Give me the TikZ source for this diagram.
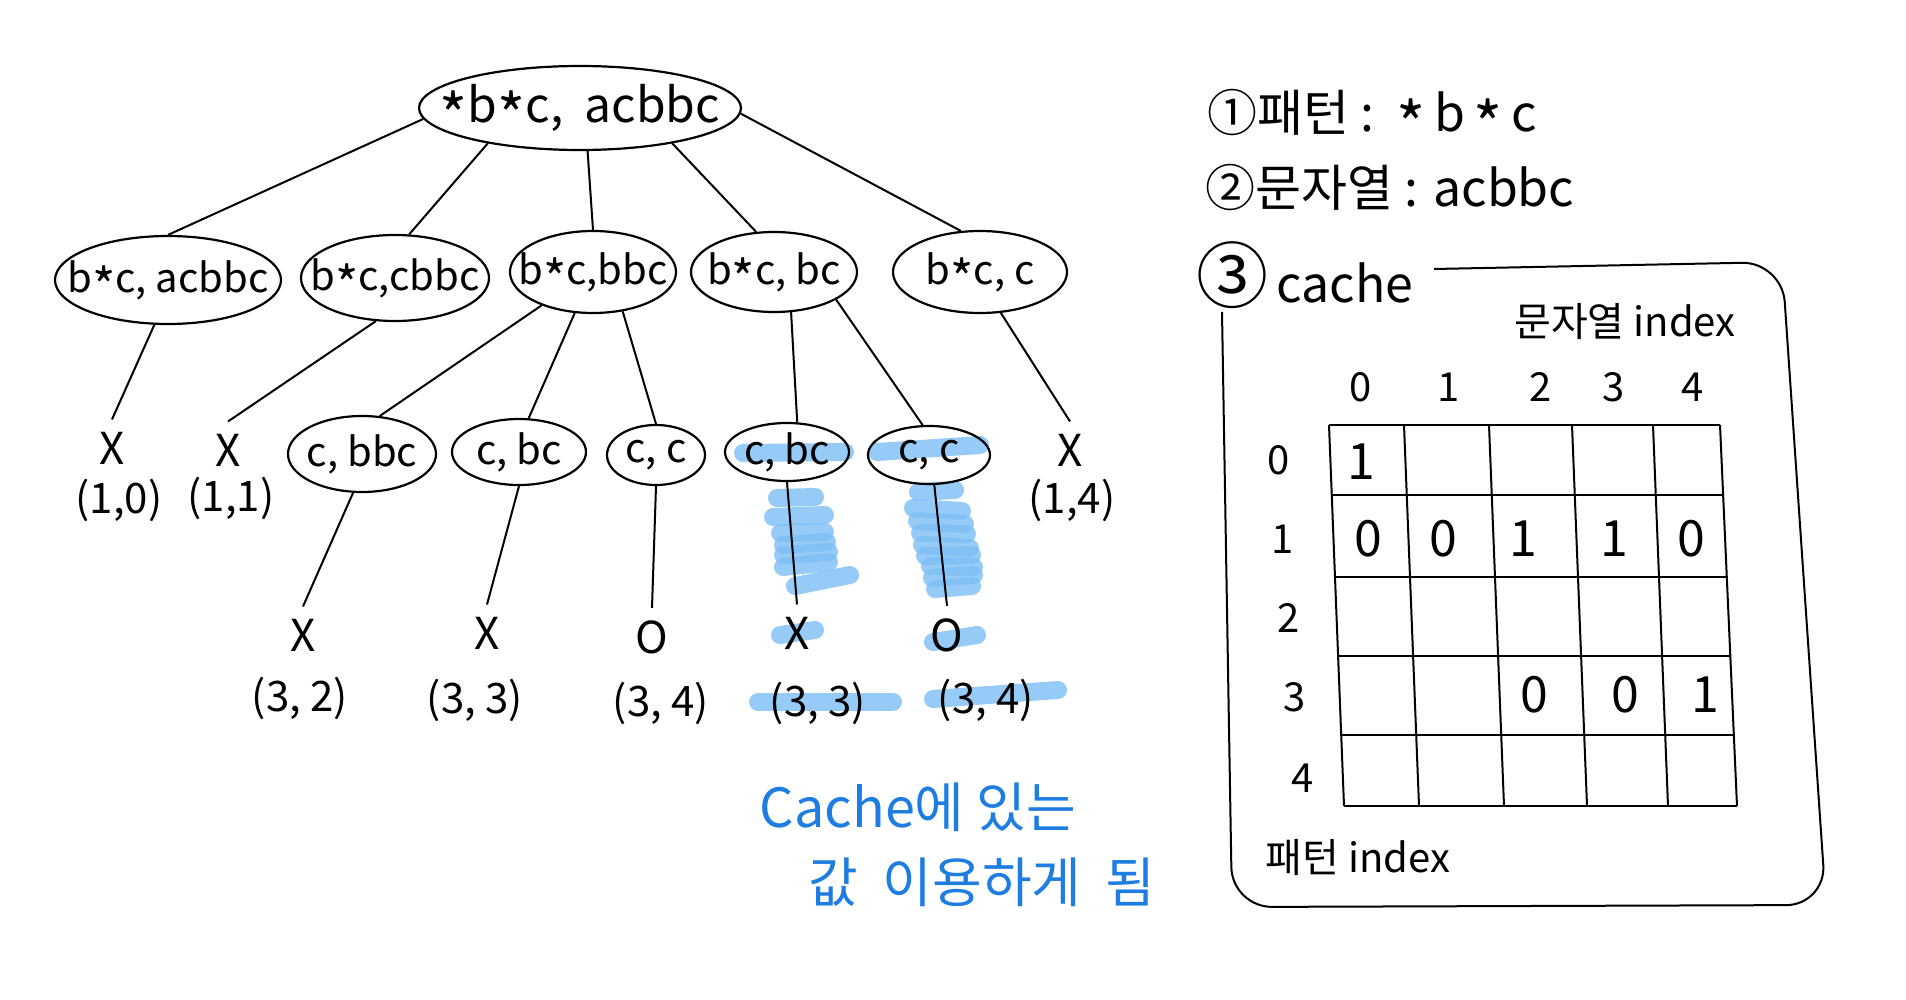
\documentclass[tikz,border=0pt]{standalone}
\usepackage{fontspec}
\usepackage{graphicx}
\setmainfont{Noto Sans CJK KR}
\usetikzlibrary{shapes.geometric}
\definecolor{hl}{RGB}{125,190,245}
\definecolor{bluetxt}{RGB}{30,125,225}
\newcommand{\zw}[1]{\makebox[0pt]{#1}}
\newcommand{\st}{\smash{\raisebox{-0.6ex}{\scalebox{1.25}{*}}}}
\tikzset{
  tn/.style={ellipse, draw, line width=1.1pt, inner sep=0pt, font=\fontsize{20}{24}\selectfont},
  leaf/.style={inner sep=6pt, font=\fontsize{22}{26}\selectfont},
  lbl/.style={inner sep=1pt, font=\fontsize{21}{25}\selectfont},
  edge/.style={line width=1pt},
  hls/.style={draw=hl, line width=9pt, line cap=round, opacity=0.8},
  side/.style={anchor=west, inner sep=0pt, font=\fontsize{25}{30}\selectfont},
  gridl/.style={line width=1pt},
  cellv/.style={inner sep=0pt, font=\fontsize{25}{30}\selectfont},
  axl/.style={inner sep=0pt, font=\fontsize{20}{24}\selectfont},
  note/.style={inner sep=0pt, text=bluetxt, font=\fontsize{27}{32}\selectfont},
}
\begin{document}
\begin{tikzpicture}[x=0.5pt,y=-0.5pt]
\useasboundingbox (0,0) rectangle (1906,1000);

% highlights (under everything)
\draw[hls] (743,453) -- (845,452);
\draw[hls] (877,452) -- (980,445);
\draw[hls] (777,498) -- (815,497);
\draw[hls] (773,517) -- (825,515);
\draw[hls] (780,533) -- (825,532);
\draw[hls] (783,545) -- (827,542);
\draw[hls] (783,555) -- (829,552);
\draw[hls] (783,567) -- (829,562);
\draw[hls] (795,586) -- (850,575);
\draw[hls] (918,492) -- (955,490);
\draw[hls] (913,508) -- (962,511);
\draw[hls] (917,521) -- (965,524);
\draw[hls] (920,533) -- (967,534);
\draw[hls] (922,545) -- (970,548);
\draw[hls] (925,556) -- (972,555);
\draw[hls] (930,566) -- (974,567);
\draw[hls] (932,578) -- (974,575);
\draw[hls] (935,589) -- (972,586);
\draw[hls] (780,635) -- (815,630);
\draw[hls] (933,642) -- (977,635);
\draw[hls] (758,702) -- (893,702);
\draw[hls] (933,699) -- (1058,690);

% tree nodes
\node[tn, minimum width=161pt, minimum height=42pt, font=\fontsize{24}{28}\selectfont] (root) at (580,108) {\zw{\st b\st c,\ \ acbbc}};
\node[tn, minimum width=113pt, minimum height=44pt] (a1) at (168,280) {\zw{b\st c, acbbc}};
\node[tn, minimum width=94pt, minimum height=43pt] (a2) at (395,278) {\zw{b\st c,cbbc}};
\node[tn, minimum width=83pt, minimum height=41pt] (a3) at (593,272) {\zw{b\st c,bbc}};
\node[tn, minimum width=83pt, minimum height=40pt] (a4) at (774,272) {\zw{b\st c, bc}};
\node[tn, minimum width=87pt, minimum height=41pt] (a5) at (980,272) {\zw{b\st c, c}};
\node[tn, minimum width=74pt, minimum height=38pt] (b1) at (362,454) {\zw{c, bbc}};
\node[tn, minimum width=67pt, minimum height=33pt] (b2) at (519,452) {\zw{c, bc}};
\node[tn, minimum width=49pt, minimum height=30pt] (b3) at (656,455) {\zw{c, c}};
\node[tn, minimum width=62pt, minimum height=29pt] (b4) at (787,452) {\zw{c, bc}};
\node[tn, minimum width=61pt, minimum height=29pt] (b5) at (929,455) {\zw{c, c}};

% leaves
\node[leaf] (x10) at (112,448) {X};
\node[lbl] (l10) at (119,500) {(1,0)};
\node[leaf] (x11) at (228,450) {X};
\node[lbl] (l11) at (231,498) {(1,1)};
\node[leaf] (x14) at (1070,450) {X};
\node[lbl] (l14) at (1072,500) {(1,4)};
\node[leaf] (y32) at (303,635) {X};
\node[lbl] (m32) at (300,698) {(3, 2)};
\node[leaf] (y33) at (487,633) {X};
\node[lbl] (m33) at (475,700) {(3, 3)};
\node[leaf] (y34) at (652,637) {O};
\node[lbl] (m34) at (661,703) {(3, 4)};
\node[leaf] (z33) at (797,633) {X};
\node[lbl] (n33) at (818,703) {(3, 3)};
\node[leaf] (z34) at (947,635) {O};
\node[lbl] (n34) at (986,700) {(3, 4)};

% connectors
\draw[edge] (root.184) -- (a1.north);
\draw[edge] (root.201) -- (a2.72);
\draw[edge] (root.280) -- (a3.north);
\draw[edge] (root.339) -- (a4.114);
\draw[edge] (root.358) -- (a5.115);
\draw[edge] (a1.253) -- (x10.north);
\draw[edge] (a2.246) -- (x11.north);
\draw[edge] (a3.213) -- (b1.65);
\draw[edge] (a3.246) -- (b2.74);
\draw[edge] (a3.307) -- (b3.north);
\draw[edge] (a4.293) -- (b4.71);
\draw[edge] (a4.336) -- (b5.102);
\draw[edge] (a5.297) -- (x14.north);
\draw[edge] (b1.257) -- (y32.north);
\draw[edge] (b2.south) -- (y33.north);
\draw[edge] (b3.south) -- (y34.north);
\draw[edge] (b4.south) -- (z33.north);
\draw[edge] (b5.280) -- (z34.north);

% blue note
\node[note] (note1) at (918,807) {Cache에 있는};
\node[note] (note2) at (982,882) {값\ \ 이용하게\ \ 됨};

% right side
\node[side] (t1) at (1207,113) {①패턴 :\ \ \st\,b\,\st\,c};
\node[side] (t2) at (1205,188) {②문자열 : acbbc};
\node[side] (t3) at (1196,275) {{\fontsize{36}{40}\selectfont ③}\,cache};
\draw[line width=1pt, rounded corners=20pt] (1434,269) -- (1782,262) -- (1826,905) -- (1232,907) -- (1222,312);

\node[axl] (sidx) at (1625,322) {문자열 index};
\node[axl] (pidx) at (1358,858) {패턴 index};

% grid
\draw[gridl] (1329,425) -- (1720,425);
\draw[gridl] (1332,495) -- (1723,495);
\draw[gridl] (1335,577) -- (1727,577);
\draw[gridl] (1338,656) -- (1731,656);
\draw[gridl] (1341,735) -- (1734,735);
\draw[gridl] (1344,806) -- (1737,806);
\draw[gridl] (1329,425) -- (1344,806);
\draw[gridl] (1404,425) -- (1419,806);
\draw[gridl] (1489,425) -- (1504,806);
\draw[gridl] (1572,425) -- (1587,806);
\draw[gridl] (1653,425) -- (1668,806);
\draw[gridl] (1720,425) -- (1737,806);

\node[axl] (c0) at (1361,387) {0};
\node[axl] (c1) at (1449,387) {1};
\node[axl] (c2) at (1541,387) {2};
\node[axl] (c3) at (1614,387) {3};
\node[axl] (c4) at (1693,387) {4};
\node[axl] (r0) at (1279,460) {0};
\node[axl] (r1) at (1283,539) {1};
\node[axl] (r2) at (1289,618) {2};
\node[axl] (r3) at (1295,697) {3};
\node[axl] (r4) at (1303,778) {4};

\node[cellv] (v00) at (1361,462) {1};
\node[cellv] (v10) at (1368,539) {0};
\node[cellv] (v11) at (1443,539) {0};
\node[cellv] (v12) at (1523,539) {1};
\node[cellv] (v13) at (1614,539) {1};
\node[cellv] (v14) at (1691,539) {0};
\node[cellv] (v32) at (1534,695) {0};
\node[cellv] (v33) at (1625,695) {0};
\node[cellv] (v34) at (1705,695) {1};
\end{tikzpicture}
\end{document}
